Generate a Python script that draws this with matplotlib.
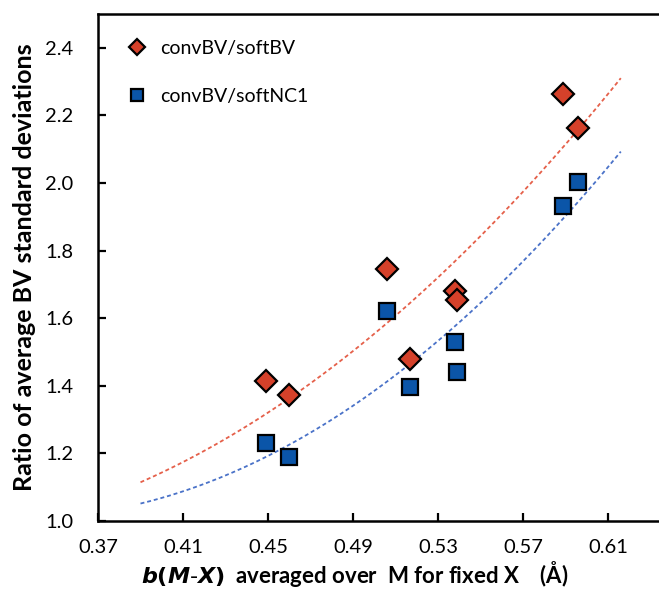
import numpy as np
import matplotlib
matplotlib.use("Agg")
import matplotlib.pyplot as plt

plt.rcParams['font.family'] = ['Lato', 'DejaVu Sans']

# b(M-X) averaged over M for fixed X (Å)
bond_softness = [0.449, 0.460, 0.506, 0.517, 0.538, 0.539, 0.589, 0.596]
ratio_softbv = [1.415, 1.373, 1.745, 1.479, 1.681, 1.654, 2.264, 2.163]
ratio_softnc1 = [1.232, 1.188, 1.621, 1.397, 1.530, 1.440, 1.931, 2.003]

# second-order trend lines (x^2, x, 1 coefficients) and their drawn span
trend_softbv = [11.17, -5.947, 1.735]
trend_softnc1 = [13.60, -9.074, 2.522]
trend_range = [0.39, 0.616]

x_ticks = [0.37, 0.41, 0.45, 0.49, 0.53, 0.57, 0.61]
y_ticks = [1.0, 1.2, 1.4, 1.6, 1.8, 2.0, 2.2, 2.4]

red = '#D5412A'
blue = '#0B55A8'

fig = plt.figure(figsize=(6.59, 5.96), dpi=100)
# the plot area runs on past the right edge of the figure
ax = fig.add_axes([0.1487, 0.1258, 0.903, 0.8507])

xs = np.linspace(trend_range[0], trend_range[1], 200)
ax.plot(xs, np.polyval(trend_softbv, xs), color='#E5604A', lw=1.3,
        ls=(0, (2.2, 1.6)), zorder=2)
ax.plot(xs, np.polyval(trend_softnc1, xs), color='#4A72C8', lw=1.3,
        ls=(0, (2.2, 1.6)), zorder=2)

ax.plot(bond_softness, ratio_softbv, ls='none', marker='D', ms=11.5,
        mfc=red, mec='black', mew=1.6, zorder=3, label='convBV/softBV')
ax.plot(bond_softness, ratio_softnc1, ls='none', marker='s', ms=12,
        mfc=blue, mec='black', mew=1.6, zorder=3, label='convBV/softNC1')

ax.set_xlim(0.37, 0.65)
ax.set_ylim(1.0, 2.5)
ax.set_xticks(x_ticks)
ax.set_xticklabels([f'{v:.2f}' for v in x_ticks])
ax.set_yticks(y_ticks)
ax.set_yticklabels([f'{v:.1f}' for v in y_ticks])
ax.tick_params(direction='in', length=6, width=1.6, labelsize=14.5,
               colors='black')
ax.tick_params(axis='y', pad=18)
ax.tick_params(axis='x', pad=13)
for sp in ax.spines.values():
    sp.set_linewidth(1.8)
    sp.set_color('black')

ax.set_ylabel('Ratio of average BV standard deviations', fontsize=18,
              fontweight='bold', labelpad=6)
ax.set_xlabel(r'$\boldsymbol{b(M\text{-}X)}$  averaged over  M for fixed X    (Å)',
              fontsize=16, fontweight='bold', labelpad=3)
ax.xaxis.set_label_coords((355 - 98) / 595, -0.075)

leg = ax.legend(loc='upper left', bbox_to_anchor=(0.0, 0.995), frameon=False,
                fontsize=14, markerscale=0.75, labelspacing=1.6,
                handletextpad=0.4, handlelength=1.6, borderaxespad=0.8)

fig.savefig('out.png', dpi=100)
